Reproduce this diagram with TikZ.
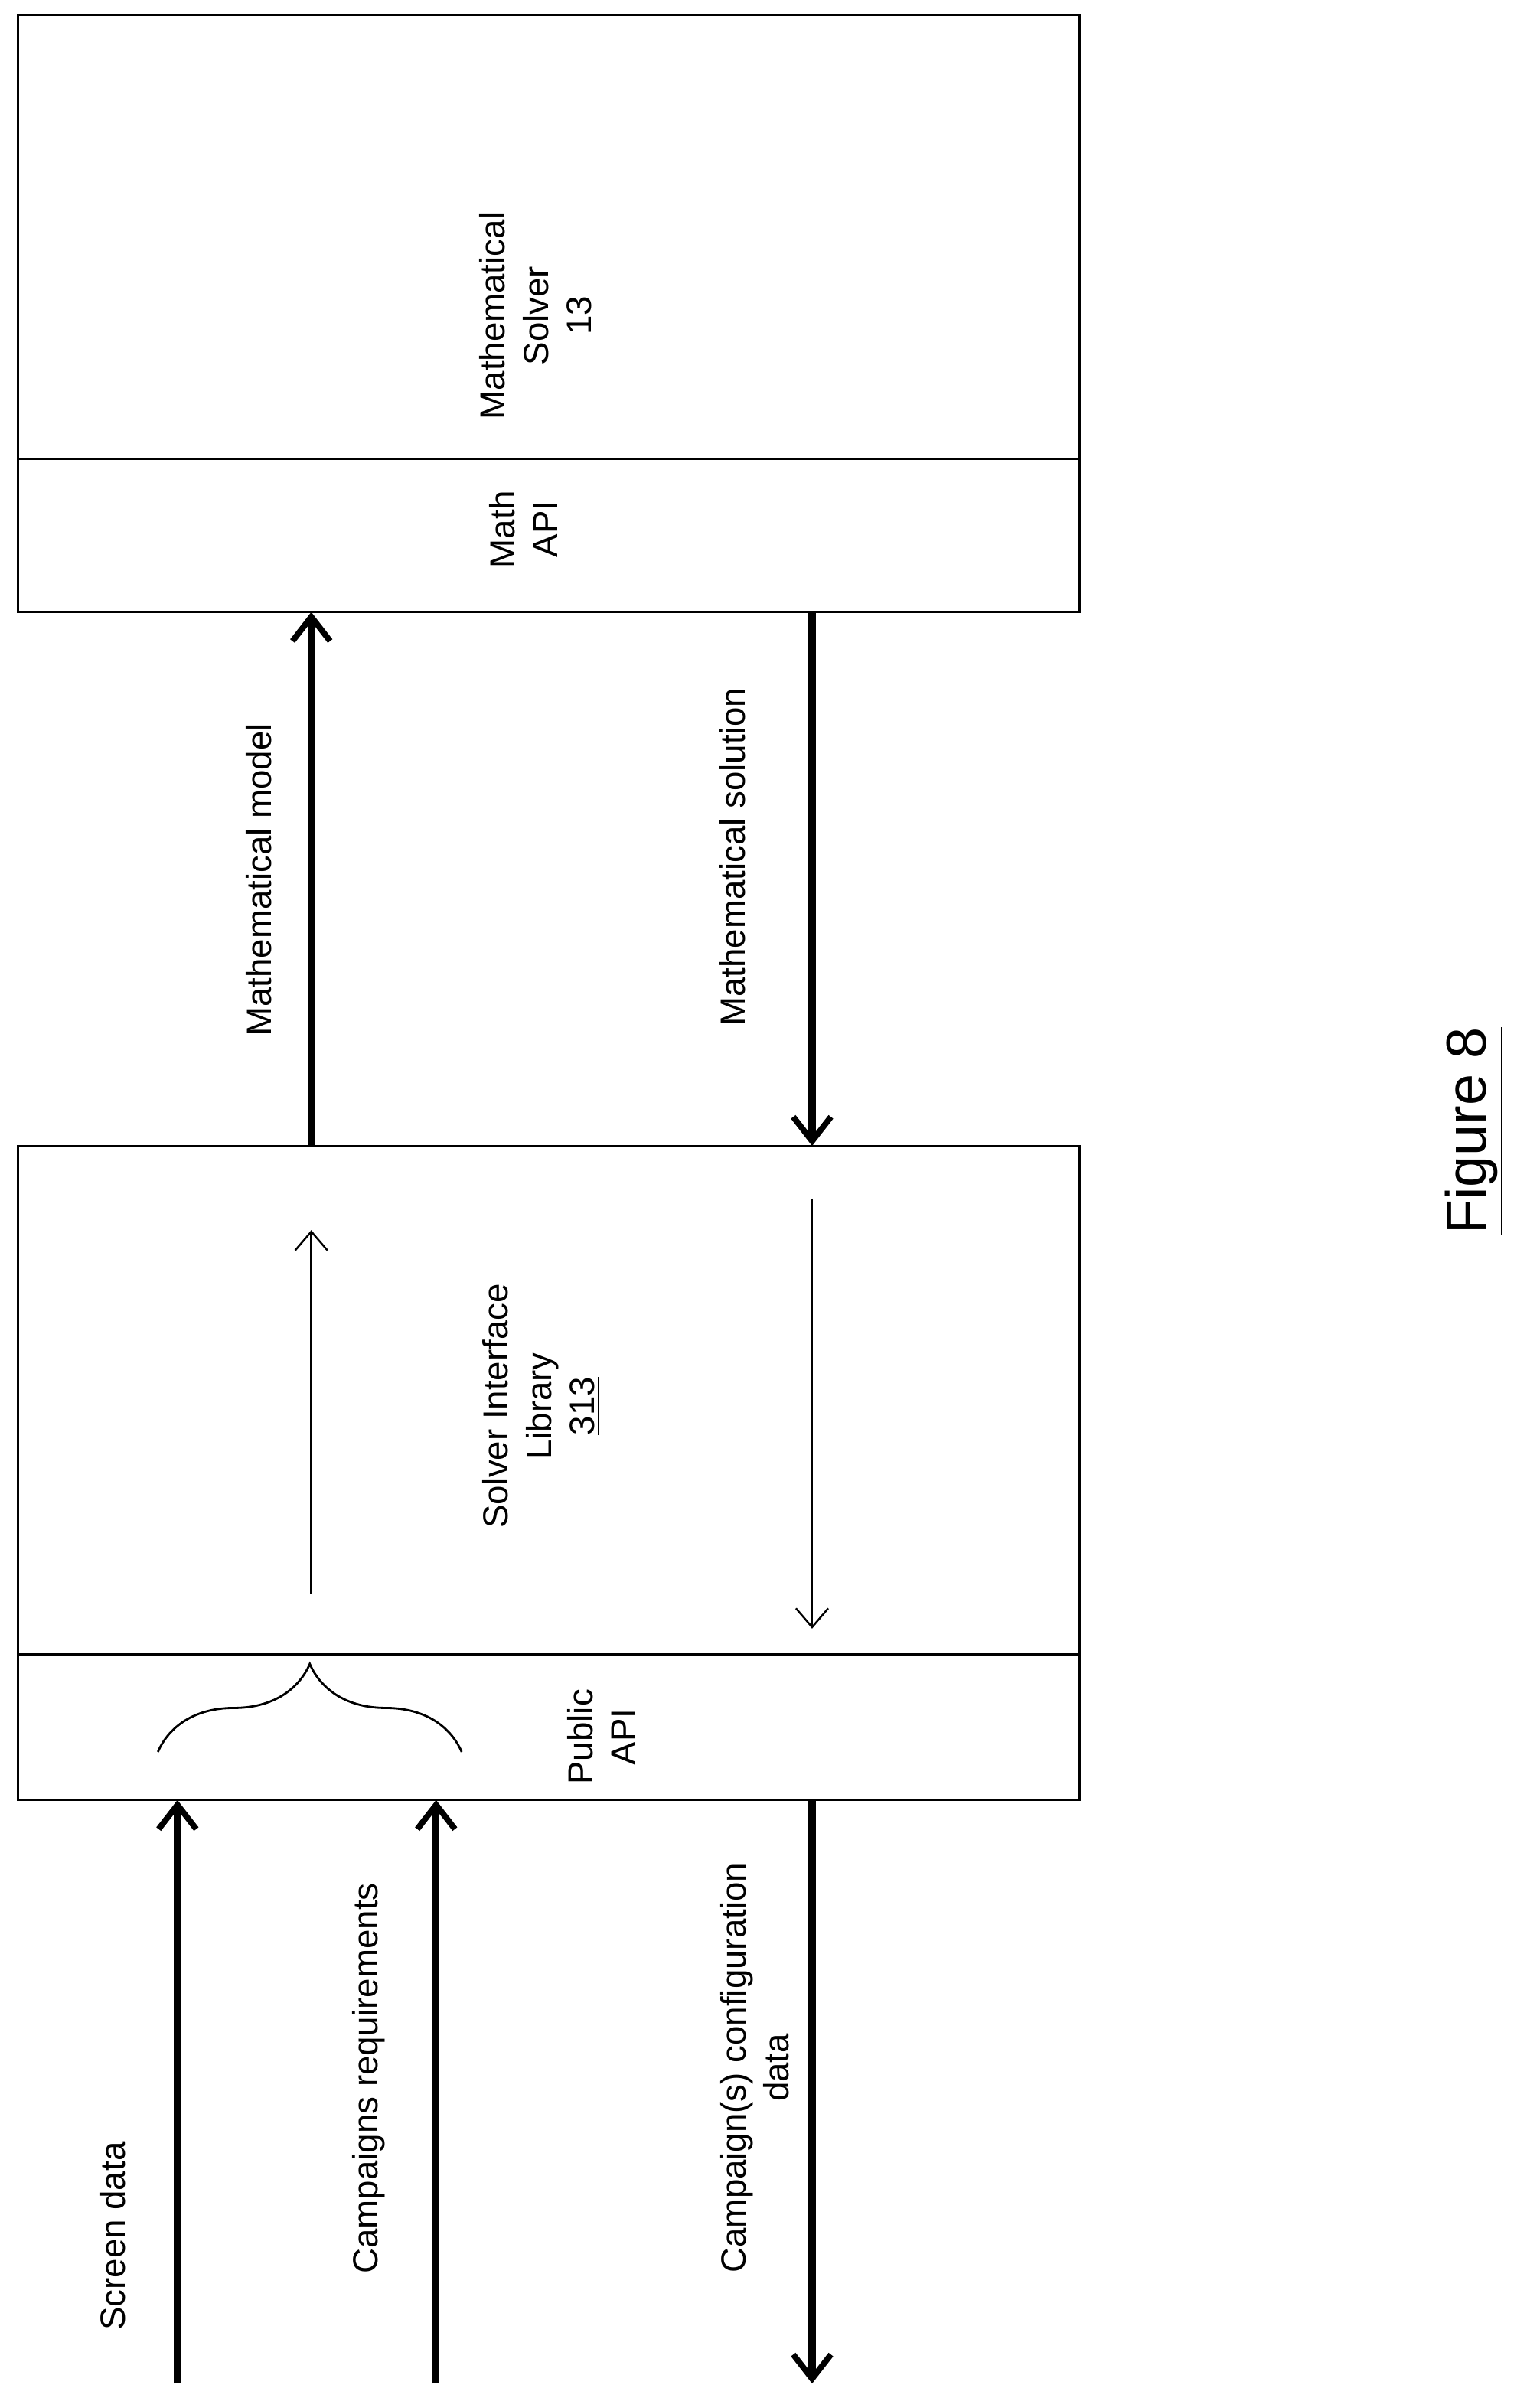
\documentclass[tikz,border=0pt]{standalone}
\usepackage{fontspec}
\setmainfont{Liberation Sans}
\usetikzlibrary{arrows.meta,decorations.pathreplacing}
\begin{document}
\begin{tikzpicture}[x=0.01965cm,y=-0.01965cm,
  box/.style={draw,line width=0.9pt},
  thick arr/.style={line width=2.6pt,-{Straight Barb[length=9pt,width=14pt,line width=2.2pt]}},
  thin arr/.style={line width=0.7pt,-{Straight Barb[length=7pt,width=12pt]}},
  lbl/.style={rotate=90,font=\fontsize{13}{16}\selectfont,align=center}]
\useasboundingbox (0,0) rectangle (1024,1588);
% top box
\draw[box] (12,10) rectangle (718,407);
\draw[box] (12,305) -- (718,305);
\node[lbl] (ms) at (358,210) {Mathematical\\Solver\\\underline{13}};
\node[lbl] (mapi) at (348,352) {Math\\API};
% bottom box
\draw[box] (12,762) rectangle (718,1197);
\draw[box] (12,1100) -- (718,1100);
\node[lbl] (sil) at (360,935) {Solver Interface\\Library\\\underline{313}};
\node[lbl] (papi) at (400,1155) {Public\\API};
\coordinate (m1) at (207,762); \coordinate (m2) at (207,407);
\coordinate (s1) at (540,407); \coordinate (s2) at (540,762);
\draw[thick arr] (m1) -- (m2);
\draw[thick arr] (s1) -- (s2);
\node[lbl] at (172,585) {Mathematical model};
\node[lbl] at (487,570) {Mathematical solution};
% inner arrows
\coordinate (i1) at (207,1060); \coordinate (i2) at (207,818);
\coordinate (j1) at (540,797); \coordinate (j2) at (540,1083);
\draw[thin arr] (i1) -- (i2);
\draw[thin arr] (j1) -- (j2);
\draw[line width=0.8pt,decorate,decoration={brace,amplitude=1.15cm,aspect=0.5}] (105,1165) -- (307,1165);
% bottom arrows
\coordinate (a1) at (118,1585); \coordinate (a2) at (118,1197);
\coordinate (b1) at (290,1585); \coordinate (b2) at (290,1197);
\coordinate (c1) at (540,1197); \coordinate (c2) at (540,1585);
\draw[thick arr] (a1) -- (a2);
\draw[thick arr] (b1) -- (b2);
\draw[thick arr] (c1) -- (c2);
\node[lbl] at (75,1487) {Screen data};
\node[lbl] at (245,1382) {Campaigns requirements};
\node[lbl] at (502,1375) {Campaign(s) configuration\\data};
\node[rotate=90,font=\fontsize{21}{24}\selectfont] (fig) at (980,752) {\underline{Figure 8}};
\end{tikzpicture}
\end{document}
